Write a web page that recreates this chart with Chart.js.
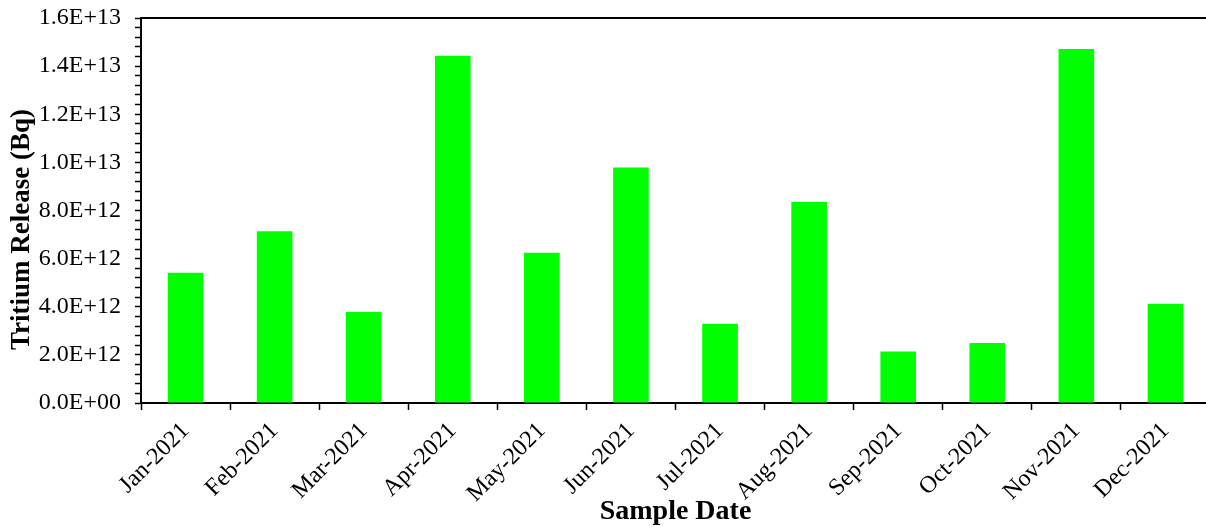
<!DOCTYPE html>
<html>
<head>
<meta charset="utf-8">
<script src="https://cdn.jsdelivr.net/npm/chart.js@4/dist/chart.umd.min.js"></script>
<style>
  html, body { margin: 0; padding: 0; background: #fff; overflow: hidden; }
  #wrap { position: relative; width: 1210px; height: 527px; }
</style>
</head>
<body>
<div id="wrap"><canvas id="c"></canvas></div>
<script>
const categories = ['Jan-2021','Feb-2021','Mar-2021','Apr-2021','May-2021','Jun-2021','Jul-2021','Aug-2021','Sep-2021','Oct-2021','Nov-2021','Dec-2021'];
const tritiumRelease = [5.41e12, 7.14e12, 3.78e12, 14.43e12, 6.24e12, 9.79e12, 3.29e12, 8.35e12, 2.14e12, 2.49e12, 14.71e12, 4.12e12];
const yTickLabels = ['0.0E+00','2.0E+12','4.0E+12','6.0E+12','8.0E+12','1.0E+13','1.2E+13','1.4E+13','1.6E+13'];
const yTitle = 'Tritium Release (Bq)';
const xTitle = 'Sample Date';
const yMax = 1.6e13;
const yMinorStep = 0.4e12;
const minorPerMajor = 5;

const FONT = "'Liberation Serif', 'Times New Roman', serif";

const frameAndTitle = {
  id: 'frameAndTitle',
  afterDraw(chart) {
    const { ctx, chartArea } = chart;
    ctx.save();
    ctx.strokeStyle = '#000';
    ctx.lineWidth = 2;
    ctx.beginPath();
    ctx.moveTo(chartArea.left - 1, chartArea.top);
    ctx.lineTo(chart.width, chartArea.top);
    ctx.stroke();
    // y-axis title, slightly below centre as in the reference
    ctx.translate(22, (chartArea.top + chartArea.bottom) / 2 + 19);
    ctx.rotate(-Math.PI / 2);
    ctx.font = 'bold 27px ' + FONT;
    ctx.fillStyle = '#000';
    ctx.textAlign = 'center';
    ctx.textBaseline = 'middle';
    ctx.fillText(yTitle, 0, 0);
    ctx.restore();
  }
};

new Chart(document.getElementById('c'), {
  type: 'bar',
  data: {
    labels: categories,
    datasets: [{
      data: tritiumRelease,
      backgroundColor: '#00ff00',
      borderWidth: 0,
      barPercentage: 0.4,
      categoryPercentage: 1.0
    }]
  },
  options: {
    responsive: true,
    maintainAspectRatio: false,
    animation: false,
    layout: { padding: { top: 18, right: 0, bottom: 0, left: 8 } },
    plugins: { legend: { display: false }, tooltip: { enabled: false } },
    scales: {
      x: {
        offset: true,
        grid: { offset: true, drawOnChartArea: false, drawTicks: true, tickLength: 7, tickColor: '#000', tickWidth: 1.5 },
        border: { display: true, color: '#000', width: 2 },
        ticks: { color: '#000', font: { family: FONT, size: 24 }, maxRotation: 45, minRotation: 45, padding: 7, autoSkip: false },
        title: { display: true, text: xTitle, color: '#000', font: { family: FONT, size: 28, weight: 'bold' }, padding: { top: -6, bottom: -2 } },
        afterFit(scale) { scale.height = 124; scale.paddingLeft = 0; scale.paddingRight = 0; }
      },
      y: {
        min: 0,
        max: yMax,
        grid: { drawOnChartArea: false, drawTicks: true, tickLength: 6, tickColor: '#000', tickWidth: 1.5 },
        border: { display: true, color: '#000', width: 2 },
        ticks: {
          stepSize: yMinorStep,
          autoSkip: false,
          color: '#000',
          font: { family: FONT, size: 24 },
          padding: 14,
          callback(value, index) {
            return index % minorPerMajor === 0 ? yTickLabels[index / minorPerMajor] : '';
          }
        },
        title: { display: false },
        afterFit(scale) { scale.width = 133; scale.paddingTop = 0; scale.paddingBottom = 0; }
      }
    }
  },
  plugins: [frameAndTitle]
});
</script>
</body>
</html>
